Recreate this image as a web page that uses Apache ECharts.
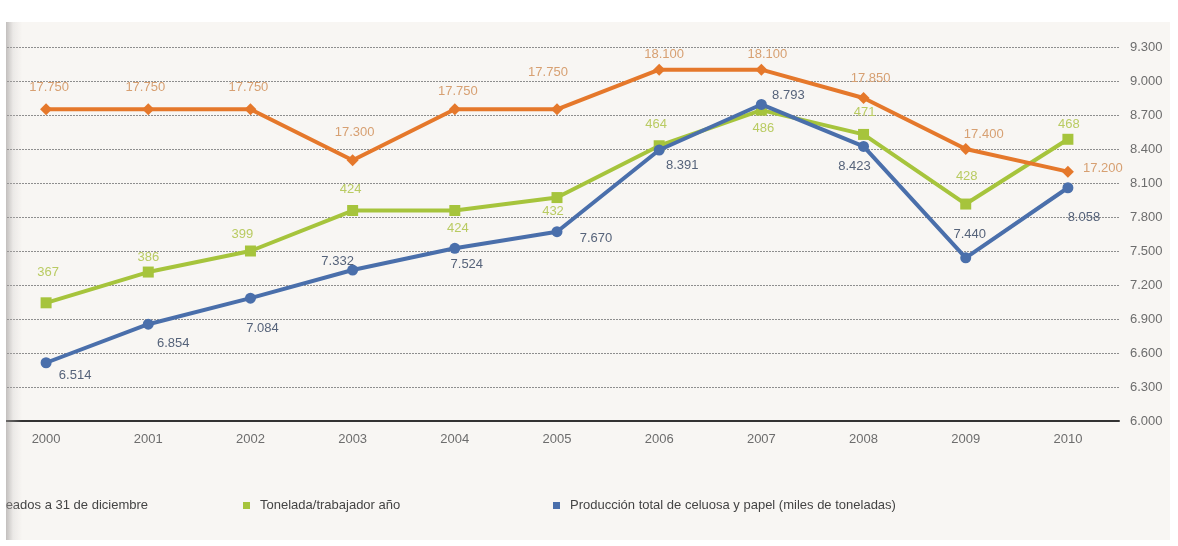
<!DOCTYPE html>
<html lang="es">
<head>
<meta charset="utf-8">
<title>Producción de celulosa y papel 2000-2010</title>
<script src="https://cdn.jsdelivr.net/npm/echarts@6/dist/echarts.min.js"></script>
<style>
  html, body { margin: 0; padding: 0; background: #ffffff; }
  #wrap { position: relative; width: 1178px; height: 546px; overflow: hidden; }
  #page { position: absolute; left: 6px; top: 22px; width: 1164px; height: 518px; background: #f8f6f3; }
  #chart { position: absolute; left: 0; top: 0; width: 1178px; height: 546px; }
  #gutter { position: absolute; left: 0; top: 0; width: 6px; height: 546px; background: #ffffff; pointer-events: none; }
  #shade { position: absolute; left: 6px; top: 22px; width: 16px; height: 518px; pointer-events: none;
           background: linear-gradient(to right, rgba(150,146,146,0.55), rgba(200,196,196,0.25) 45%, rgba(248,246,243,0)); }
</style>
</head>
<body>
<div id="wrap">
  <div id="page"></div>
  <div id="chart"></div>
  <div id="gutter"></div>
  <div id="shade"></div>
</div>
<script>
// Years on the horizontal axis
const years = ['2000', '2001', '2002', '2003', '2004', '2005', '2006', '2007', '2008', '2009', '2010'];

// Empleados a 31 de diciembre
const empleados = [17750, 17750, 17750, 17300, 17750, 17750, 18100, 18100, 17850, 17400, 17200];

// Tonelada/trabajador año
const toneladaTrabajador = [367, 386, 399, 424, 424, 432, 464, 486, 471, 428, 468];

// Producción total de celulosa y papel (miles de toneladas)
const produccion = [6514, 6854, 7084, 7332, 7524, 7670, 8391, 8793, 8423, 7440, 8058];

// Series names (legend)
const nameEmpleados = 'Empleados a 31 de diciembre';
const nameTonelada = 'Tonelada/trabajador año';
const nameProduccion = 'Producción total de celuosa y papel (miles de toneladas)';

// Label placement around each point, [dx, dy] from the marker centre
const offEmpleados = [[3,-22],[-3,-22],[-2,-22],[2,-28],[3,-18],[-9,-37],[5,-15],[6,-15],[7,-20],[18,-15],[35,-3]];
const offTonelada  = [[2,-30],[0,-15],[-8,-17],[-2,-21],[3,18],[-4,14],[-3,-21],[2,18],[1,-22],[1,-28],[1,-15]];
const offProduccion = [[29,13],[25,19],[12,30],[-15,-9],[12,16],[39,7],[23,15],[27,-9],[-9,20],[4,-23],[16,30]];

// Thousands separator as a dot
function fmt(v) {
  return String(v).replace(/\B(?=(\d{3})+(?!\d))/g, '.');
}

const FONT = '"Liberation Sans Narrow", "Liberation Sans", "Noto Sans", sans-serif';

function withLabels(values, offsets) {
  return values.map((v, i) => ({ value: v, label: { offset: offsets[i] } }));
}

const legendText = { color: '#444444', fontSize: 13, fontFamily: FONT, padding: [0, 0, 0, 5] };

const chart = echarts.init(document.getElementById('chart'), null, { renderer: 'canvas' });

chart.setOption({
  backgroundColor: 'transparent',
  animation: false,
  textStyle: { fontFamily: FONT },
  grid: {
    left: -5, right: 59, top: 47, bottom: 125,
    outerBoundsMode: 'none'
  },
  legend: [
    {
      data: [nameEmpleados], right: 1030, top: 499, padding: 0,
      icon: 'rect', itemWidth: 7, itemHeight: 7, textStyle: legendText
    },
    {
      data: [nameTonelada], left: 243, top: 499, padding: 0,
      icon: 'rect', itemWidth: 7, itemHeight: 7, textStyle: legendText
    },
    {
      data: [nameProduccion], left: 553, top: 499, padding: 0,
      icon: 'rect', itemWidth: 7, itemHeight: 7, textStyle: legendText
    }
  ],
  xAxis: {
    type: 'category',
    data: years,
    boundaryGap: true,
    axisLine: { show: true, lineStyle: { color: '#333333', width: 2 } },
    axisTick: { show: false },
    axisLabel: { color: '#6d6d6d', fontSize: 13, margin: 12, fontFamily: FONT }
  },
  yAxis: [
    {
      type: 'value',
      position: 'right',
      min: 6000, max: 9300, interval: 300,
      axisLine: { show: false },
      axisTick: { show: false },
      axisLabel: { formatter: fmt, color: '#6d6d6d', fontSize: 13, margin: 11, fontFamily: FONT },
      splitLine: { show: true, lineStyle: { color: '#8e8e8e', width: 1, type: [2, 1] } }
    },
    { type: 'value', min: 15000, max: 18300, show: false },
    { type: 'value', min: 294, max: 525, show: false }
  ],
  series: [
    {
      name: nameTonelada,
      type: 'line',
      yAxisIndex: 2,
      data: withLabels(toneladaTrabajador, offTonelada),
      color: '#a6c43c',
      lineStyle: { width: 4, color: '#a6c43c' },
      symbol: 'rect', symbolSize: 11,
      itemStyle: { color: '#a6c43c' },
      z: 2,
      label: {
        show: true, position: 'inside', formatter: p => fmt(p.value),
        color: '#b9cb62', fontSize: 13, fontFamily: FONT
      }
    },
    {
      name: nameProduccion,
      type: 'line',
      yAxisIndex: 0,
      data: withLabels(produccion, offProduccion),
      color: '#4a6fab',
      lineStyle: { width: 4, color: '#4a6fab' },
      symbol: 'circle', symbolSize: 11,
      itemStyle: { color: '#4a6fab' },
      z: 3,
      label: {
        show: true, position: 'inside', formatter: p => fmt(p.value),
        color: '#56637a', fontSize: 13, fontFamily: FONT
      }
    },
    {
      name: nameEmpleados,
      type: 'line',
      yAxisIndex: 1,
      data: withLabels(empleados, offEmpleados),
      color: '#e5782b',
      lineStyle: { width: 4, color: '#e5782b' },
      symbol: 'diamond', symbolSize: 12,
      itemStyle: { color: '#e5782b' },
      z: 4,
      label: {
        show: true, position: 'inside', formatter: p => fmt(p.value),
        color: '#d7a072', fontSize: 13, fontFamily: FONT
      }
    }
  ]
});
</script>
</body>
</html>
